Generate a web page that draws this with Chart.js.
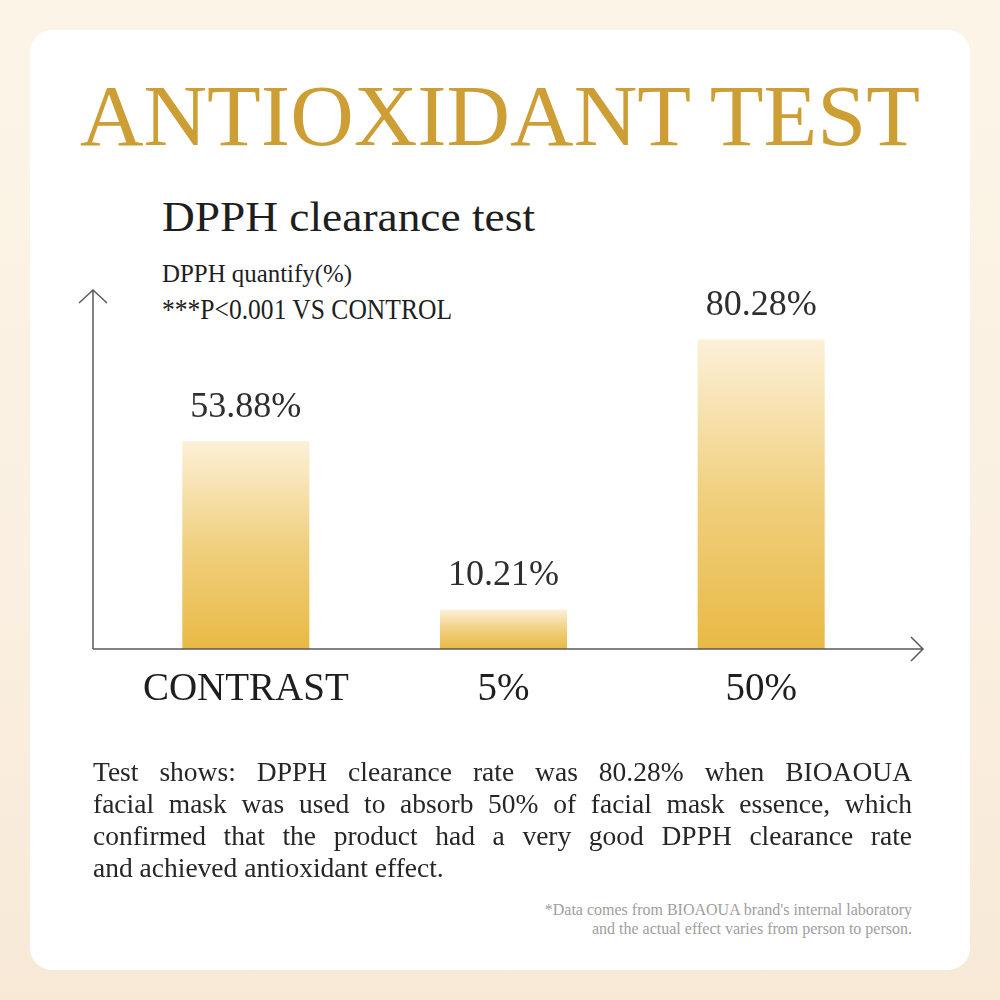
<!DOCTYPE html>
<html>
<head>
<meta charset="utf-8">
<script src="https://cdn.jsdelivr.net/npm/chart.js@4.4.1/dist/chart.umd.min.js"></script>
<style>
  html, body { margin: 0; padding: 0; }
  body {
    width: 1000px; height: 1000px; position: relative; overflow: hidden;
    background: linear-gradient(180deg, #fcf5e7 0%, #faefe0 60%, #f8e9d7 100%);
    font-family: "Liberation Serif", "DejaVu Serif", serif;
  }
  .card {
    position: absolute; left: 30px; top: 30px; width: 940px; height: 940px;
    background: #fff; border-radius: 22px;
  }
  .txt { position: absolute; white-space: nowrap; line-height: 1; }
  #title { left: 80px; top: 73px; font-size: 86px; color: #cc9e34; }
  #subtitle { left: 162px; top: 195px; font-size: 43px; color: #1e1e1e; }
  #ylab { left: 162px; top: 261px; font-size: 25px; color: #1e1e1e; }
  #pval { left: 162px; top: 295px; font-size: 29px; color: #1e1e1e; }
  #chartBox { position: absolute; left: 40px; top: 240px; width: 920px; height: 520px; }
  #para {
    position: absolute; left: 93px; top: 756px; width: 819px;
    font-size: 27.5px; line-height: 32px; color: #262626;
  }
  #para div { text-align: justify; text-align-last: justify; white-space: nowrap; }
  #para div.last { text-align-last: left; }
  #note {
    position: absolute; right: 88px; top: 900px; text-align: right;
    font-size: 16px; line-height: 19px; color: #9e9e9e;
  }
</style>
</head>
<body>
<div class="card"></div>
<div id="title" class="txt" data-fit="840">ANTIOXIDANT TEST</div>
<div id="subtitle" class="txt" data-fit="373">DPPH clearance test</div>
<div id="ylab" class="txt" data-fit="190">DPPH quantify(%)</div>
<div id="pval" class="txt" data-fit="290">***P&lt;0.001 VS CONTROL</div>
<div id="chartBox"><canvas id="chart" width="920" height="520"></canvas></div>
<div id="para">
  <div>Test shows: DPPH clearance rate was 80.28% when BIOAOUA</div>
  <div>facial mask was used to absorb 50% of facial mask essence, which</div>
  <div>confirmed that the product had a very good DPPH clearance rate</div>
  <div class="last">and achieved antioxidant effect.</div>
</div>
<div id="note">*Data comes from BIOAOUA brand's internal laboratory<br>and the actual effect varies from person to person.</div>

<script>
// chart data
const categories = ['CONTRAST', '5%', '50%'];
const dpphValues = [53.88, 10.21, 80.28];
const yMax = 90;

// squeeze the headline texts to the widths in the picture
document.querySelectorAll('[data-fit]').forEach(el => {
    const target = parseFloat(el.dataset.fit);
    const w = el.getBoundingClientRect().width;
    el.style.transformOrigin = 'left top';
    el.style.transform = 'scaleX(' + (target / w) + ')';
});

//Gradient for each bar, pale on top and gold at the base
function barGradient(ctx) {
    const chart = ctx.chart;
    if (!chart.chartArea || ctx.raw === undefined) return '#e8b945';
    const y = chart.scales.y;
    const top = y.getPixelForValue(ctx.raw);
    const bottom = y.getPixelForValue(0);
    const g = chart.ctx.createLinearGradient(0, top, 0, bottom);
    g.addColorStop(0, '#fcf0d8');
    g.addColorStop(0.5, '#f0d07f');
    g.addColorStop(1, '#e8b945');
    return g;
}

// arrows for both axes
const arrowAxes = {
    id: 'arrowAxes',
    afterDatasetsDraw(chart) {
        const {ctx, chartArea} = chart;
        const x0 = chartArea.left - 24;
        const y0 = chartArea.bottom;
        const yTip = 50;
        const xTip = chartArea.right + 33;
        ctx.save();
        ctx.strokeStyle = '#5a5a5a';
        ctx.lineWidth = 1.5;
        ctx.beginPath();
        ctx.moveTo(x0, y0);
        ctx.lineTo(x0, yTip);
        ctx.moveTo(x0 - 14, yTip + 13);
        ctx.lineTo(x0, yTip);
        ctx.lineTo(x0 + 14, yTip + 13);
        ctx.moveTo(x0, y0);
        ctx.lineTo(xTip, y0);
        ctx.moveTo(xTip - 12, y0 - 12);
        ctx.lineTo(xTip, y0);
        ctx.lineTo(xTip - 12, y0 + 12);
        ctx.stroke();
        ctx.restore();
    }
};

// percent labels over the bars
const valueLabels = {
    id: 'valueLabels',
    afterDatasetsDraw(chart) {
        const {ctx} = chart;
        const meta = chart.getDatasetMeta(0);
        ctx.save();
        ctx.font = '36px "Liberation Serif", serif';
        ctx.fillStyle = '#2e2e2e';
        ctx.textAlign = 'center';
        ctx.textBaseline = 'middle';
        meta.data.forEach((bar, i) => {
            ctx.fillText(dpphValues[i].toFixed(2) + '%', bar.x, bar.y - 34);
        });
        ctx.restore();
    }
};

new Chart(document.querySelector('#chart').getContext('2d'), {
    type: 'bar',
    data: {
        labels: categories,
        datasets: [{
            label: 'DPPH quantify(%)',
            data: dpphValues,
            backgroundColor: barGradient,
            borderWidth: 0,
            categoryPercentage: 1,
            barPercentage: 0.493
        }]
    },
    options: {
        responsive: false,
        devicePixelRatio: 1,
        animation: false,
        layout: { padding: { left: 77, right: 70, top: 62, bottom: 51 } },
        plugins: { legend: { display: false }, tooltip: { enabled: false } },
        scales: {
            x: {
                grid: { display: false, drawTicks: false },
                border: { display: false },
                ticks: {
                    padding: 17,
                    color: '#1e1e1e',
                    font: { family: '"Liberation Serif", serif', size: 39 }
                },
                afterFit(axis) { axis.height = 60; }
            },
            y: {
                display: false,
                min: 0,
                max: yMax
            }
        }
    },
    plugins: [arrowAxes, valueLabels]
});
</script>
</body>
</html>
